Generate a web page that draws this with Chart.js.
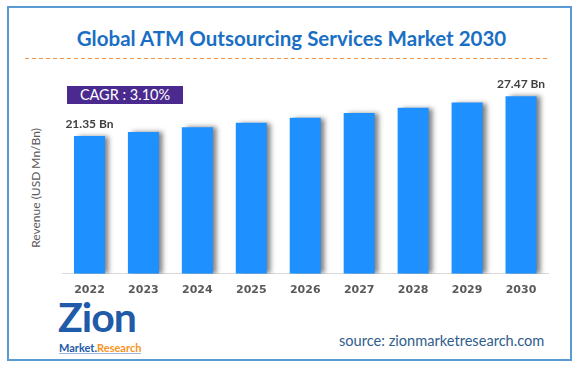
<!DOCTYPE html>
<html>
<head>
<meta charset="utf-8">
<script src="https://cdn.jsdelivr.net/npm/chart.js@4.4.1/dist/chart.umd.min.js"></script>
<style>
  body { margin: 0; background: #fff; }
  #wrap { position: relative; width: 575px; height: 365px; overflow: hidden; font-family: Lato, sans-serif; }
  #frame { position: absolute; left: 7px; top: 6px; width: 565px; height: 355px; box-sizing: border-box; border: 2px solid #5b9bd5; }
  #title { position: absolute; left: 4px; width: 575px; top: 26px; text-align: center; font: bold 20.5px Lato, sans-serif; color: #1a6fc4; }
  #dash { position: absolute; left: 25px; top: 57px; }
  #cagr { position: absolute; left: 67px; top: 86px; width: 116px; height: 18px; background: #4b2a8f; color: #fff; font: 14.5px Lato, sans-serif; line-height: 18px; text-align: center; }
  #ylabel { position: absolute; left: 35px; top: 188px; transform: translate(-50%, -50%) rotate(-90deg); white-space: nowrap; font: 12px Lato, sans-serif; color: #595959; }
  #logo { position: absolute; left: 58px; top: 298px; color: #1f5ba8; }
  #logo .big { font: bold 41px Lato, sans-serif; letter-spacing: -1px; line-height: 38px; }
  #logo .small { font: bold 11px Lato, sans-serif; line-height: 11px; margin-left: 1px; border-bottom: 1px solid #9fb7d8; display: inline-block; }
  #logo .small span { color: #f7941d; }
  #source { position: absolute; left: 339px; top: 332px; font: 14.6px Lato, sans-serif; color: #2f5d8c; }
  canvas { position: absolute; left: 0; top: 0; }
</style>
</head>
<body>
<div id="wrap">
  <div id="frame"></div>
  <div id="title">Global ATM Outsourcing Services Market 2030</div>
  <svg id="dash" width="525" height="3"><line x1="0" y1="1.5" x2="524" y2="1.5" stroke="#f79646" stroke-width="1.2" stroke-dasharray="4 3"/></svg>
  <div id="cagr">CAGR : 3.10%</div>
  <div id="ylabel">Revenue (USD Mn/Bn)</div>
  <div id="logo"><div class="big">Zion</div><div class="small">Market.<span>Research</span></div></div>
  <div id="source">source: zionmarketresearch.com</div>
  <canvas id="marketChart" width="575" height="365"></canvas>
</div>
<script>
// chart data
const years = ['2022', '2023', '2024', '2025', '2026', '2027', '2028', '2029', '2030'];
const revenue = [21.35, 21.95, 22.70, 23.40, 24.15, 24.90, 25.70, 26.50, 27.47];
const labelledBars = [0, 8];

// bar shadow + value labels on first and last bar
const barExtras = {
    id: 'barExtras',
    beforeDatasetsDraw(chart) {
        const c = chart.ctx;
        c.save();
        c.shadowColor = 'rgba(0, 0, 0, 0.5)';
        c.shadowBlur = 5;
        c.shadowOffsetX = 4;
        c.shadowOffsetY = 0;
    },
    afterDatasetsDraw(chart) {
        const c = chart.ctx;
        c.restore();
        const bars = chart.getDatasetMeta(0).data;
        c.save();
        c.font = 'bold 12px Lato, sans-serif';
        c.fillStyle = '#404040';
        c.textAlign = 'center';
        c.textBaseline = 'middle';
        labelledBars.forEach(i => {
            c.fillText(revenue[i].toFixed(2) + ' Bn', bars[i].x, bars[i].y - 12);
        });
        c.restore();
    }
};

function createMarketChart() {
    const ctx = document.getElementById('marketChart').getContext('2d');
    new Chart(ctx, {
        type: 'bar',
        data: {
            labels: years,
            datasets: [{
                data: revenue,
                backgroundColor: '#1e90ff',
                borderWidth: 0,
                categoryPercentage: 1,
                barPercentage: 0.575
            }]
        },
        options: {
            responsive: false,
            animation: false,
            layout: { padding: { left: 62.5, right: 27, top: 80, bottom: 58 } },
            plugins: { legend: { display: false }, tooltip: { enabled: false } },
            scales: {
                x: {
                    grid: { display: false, drawTicks: false, tickLength: 0 },
                    border: { display: true, color: '#d9d9d9', width: 1 },
                    ticks: {
                        padding: 10,
                        color: '#595959',
                        font: { family: 'DejaVu Sans', weight: 'bold', size: 11 }
                    }
                },
                y: { display: false, min: 0, max: 30 }
            }
        },
        plugins: [barExtras]
    });
}

window.onload = function() {
    createMarketChart();
};
</script>
</body>
</html>
